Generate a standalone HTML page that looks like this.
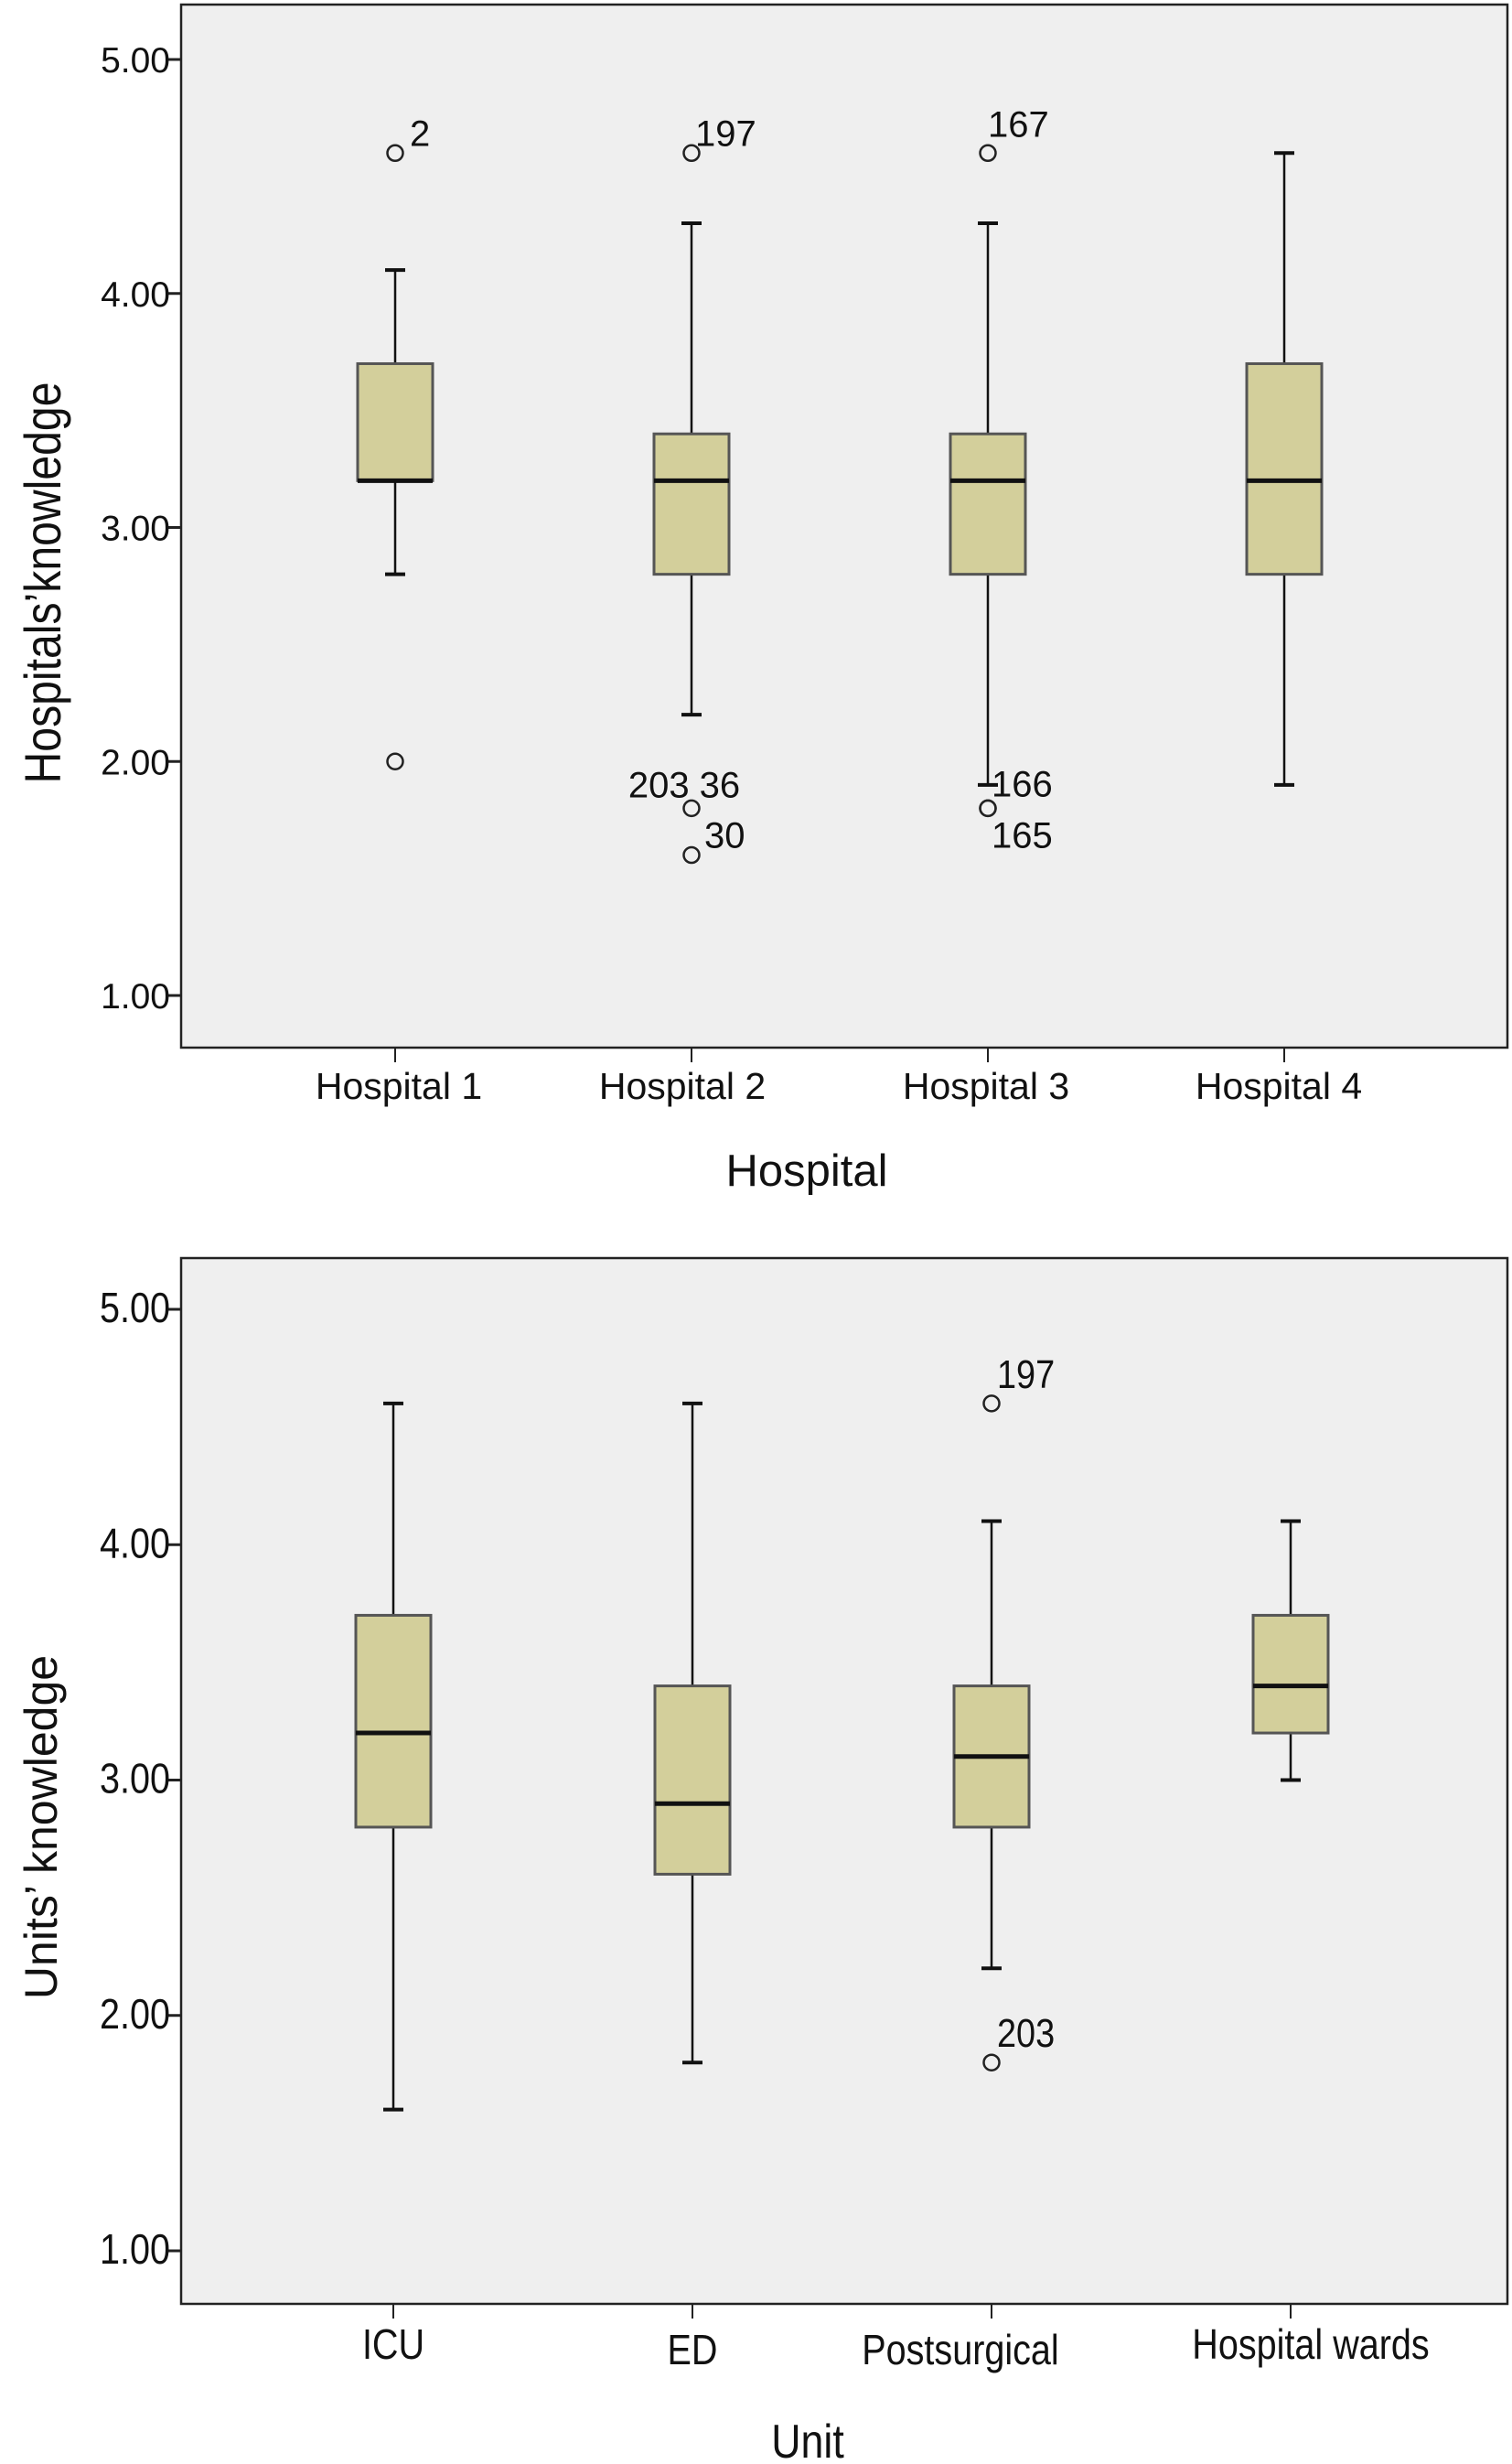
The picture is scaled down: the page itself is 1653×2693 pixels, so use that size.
<!DOCTYPE html>
<html><head><meta charset="utf-8"><style>
html,body{margin:0;padding:0;background:#fff;}
svg{display:block;font-family:"Liberation Sans",sans-serif;}
</style></head><body>
<svg id="c" width="1653" height="2693" viewBox="0 0 1653 2693" xmlns="http://www.w3.org/2000/svg"></svg>
<script>
// Top chart data
const hospCats = ["Hospital 1","Hospital 2","Hospital 3","Hospital 4"];
const hospQ1 = [3.2,2.8,2.8,2.8];
const hospMed = [3.2,3.2,3.2,3.2];
const hospQ3 = [3.7,3.4,3.4,3.7];
const hospLo = [2.8,2.2,1.9,1.9];
const hospHi = [4.1,4.3,4.3,4.6];
const hospOutliers = [[4.6,"2"],[2.0,""]];
const hospOut2 = [[4.6,"197"],[1.8,"203 36"],[1.6,"30"]];
const hospOut3 = [[4.6,"167"],[1.8,"166"],[1.8,"165"]];
const hospOut4 = [];
// Bottom chart data
const unitCats = ["ICU","ED","Postsurgical","Hospital wards"];
const unitQ1 = [2.8,2.6,2.8,3.2];
const unitMed = [3.2,2.9,3.1,3.4];
const unitQ3 = [3.7,3.4,3.4,3.7];
const unitLo = [1.6,1.8,2.2,3.0];
const unitHi = [4.6,4.6,4.1,4.1];
const unitOut1 = [];
const unitOut2 = [];
const unitOut3 = [[4.6,"197"],[1.8,"203"]];
const unitOut4 = [];
const yTicks = [1,2,3,4,5];
const yTickLabels = ["1.00","2.00","3.00","4.00","5.00"];

const svg = document.getElementById('c');
const NS = "http://www.w3.org/2000/svg";
function mk(tag, attrs, parent){const e=document.createElementNS(NS,tag);for(const k in attrs)e.setAttribute(k,attrs[k]);(parent||svg).appendChild(e);return e;}

function chart(cfg){
  const g = mk('g',{});
  
  
  const y = v => cfg.y1 - (v-1)*(cfg.y1-cfg.y5)/4;
  const x = i => cfg.x0 + i*cfg.dx;
  const bg = mk('rect',{x:cfg.L,y:cfg.T,width:cfg.R-cfg.L,height:cfg.B-cfg.T,fill:'#efefef',stroke:'#222','stroke-width':2.5},g);
  
  
  const sx = cfg.sx;
  yTicks.forEach((v,i)=>{
    const t = mk('line',{x1:cfg.L-14,x2:cfg.L,y1:y(v),y2:y(v),stroke:'#222','stroke-width':3},g);
    
    
    const tx = mk('text',{x:0,y:0,'font-size':cfg.tickFs,'text-anchor':'end',fill:'#111',transform:`translate(${cfg.L-12},${y(v)+14}) scale(${sx},1)`},g);
    tx.textContent = yTickLabels[i];
    
    
  });
  const yt = mk('text',{x:0,y:0,'font-size':cfg.ytFs,'text-anchor':'middle',fill:'#111',transform:`translate(${cfg.ytx},${cfg.tyc}) rotate(-90) scale(${cfg.titleSx},1)`},g);
  yt.textContent = cfg.ytitle;
  
  
  const hw = cfg.hw;
  cfg.cats.forEach((c,i)=>{
    const cx = x(i);
    const tk = mk('line',{x1:cx,x2:cx,y1:cfg.B,y2:cfg.B+16,stroke:'#222','stroke-width':2},g);
    
    
    const lb = mk('text',{x:0,y:0,'font-size':cfg.labFs,'text-anchor':'middle',fill:'#111',transform:`translate(${cx+cfg.labOff[i]},${cfg.labY[i]}) scale(${sx},1)`},g);
    lb.textContent = c;
    
    
    const wh = mk('line',{x1:cx,x2:cx,y1:y(cfg.hi[i]),y2:y(cfg.lo[i]),stroke:'#111','stroke-width':2.5},g);
    
    
    [cfg.hi[i],cfg.lo[i]].forEach(v=>{
      const cp = mk('line',{x1:cx-11,x2:cx+11,y1:y(v),y2:y(v),stroke:'#111','stroke-width':4},g);
      
      
    });
    const bx = mk('rect',{x:cx-hw,y:y(cfg.q3[i]),width:2*hw,height:y(cfg.q1[i])-y(cfg.q3[i]),fill:'#d3cf9b',stroke:'#555','stroke-width':3},g);
    
    
    const md = mk('line',{x1:cx-hw,x2:cx+hw,y1:y(cfg.med[i]),y2:y(cfg.med[i]),stroke:'#111','stroke-width':5},g);
    
    
    cfg.outs[i].forEach((o,j)=>{
      const ci = mk('circle',{cx:cx,cy:y(o[0]),r:8.5,fill:'none',stroke:'#222','stroke-width':2.5},g);
      
      
      if(o[1]){
        const off = cfg.outLab[i][j];
        const ot = mk('text',{x:0,y:0,'font-size':cfg.outFs,'text-anchor':off[2]||'start',fill:'#111',transform:`translate(${cx+off[0]},${y(o[0])+off[1]}) scale(${sx},1)`},g);
        ot.textContent = o[1];
        
        
      }
    });
  });
  const xt = mk('text',{x:0,y:0,'font-size':cfg.xtFs,'text-anchor':'middle',fill:'#111',transform:`translate(${cfg.xtx},${cfg.xty}) scale(${sx},1)`},g);
  xt.textContent = cfg.xtitle;
  
  
}

chart({name:'hospital-chart',L:198,R:1648,T:5,B:1145,y5:65,y1:1088,x0:432,dx:324,hw:41,
  cats:hospCats,q1:hospQ1,med:hospMed,q3:hospQ3,lo:hospLo,hi:hospHi,
  outs:[hospOutliers,hospOut2,hospOut3,hospOut4],
  outLab:[[[16,-8]],[[4,-8],[-8,-12,'middle'],[14,-8]],[[0,-18],[4,-13],[4,43]],[]],
  labY:[1201,1201,1201,1201],labOff:[4,-10,-2,-6],
  tickFs:39,labFs:41,outFs:40,ytFs:56,xtFs:49,sx:1,
  ytitle:"Hospitals’knowledge",ytx:66,tyc:637,titleSx:0.86,xtitle:"Hospital",xtx:882,xty:1296});

chart({name:'unit-chart',L:198,R:1648,T:1375,B:2518,y5:1431,y1:2460,x0:430,dx:327,hw:41,
  cats:unitCats,q1:unitQ1,med:unitMed,q3:unitQ3,lo:unitLo,hi:unitHi,
  outs:[unitOut1,unitOut2,unitOut3,unitOut4],
  outLab:[[],[],[[6,-17],[6,-17]],[]],
  labY:[2578,2584,2584,2578],labOff:[0,0,-34,22],
  tickFs:46,labFs:46,outFs:44,ytFs:50,xtFs:52,sx:0.86,
  ytitle:"Units’ knowledge",ytx:62,tyc:1997,titleSx:1,xtitle:"Unit",xtx:883,xty:2686});
</script>
</body></html>
